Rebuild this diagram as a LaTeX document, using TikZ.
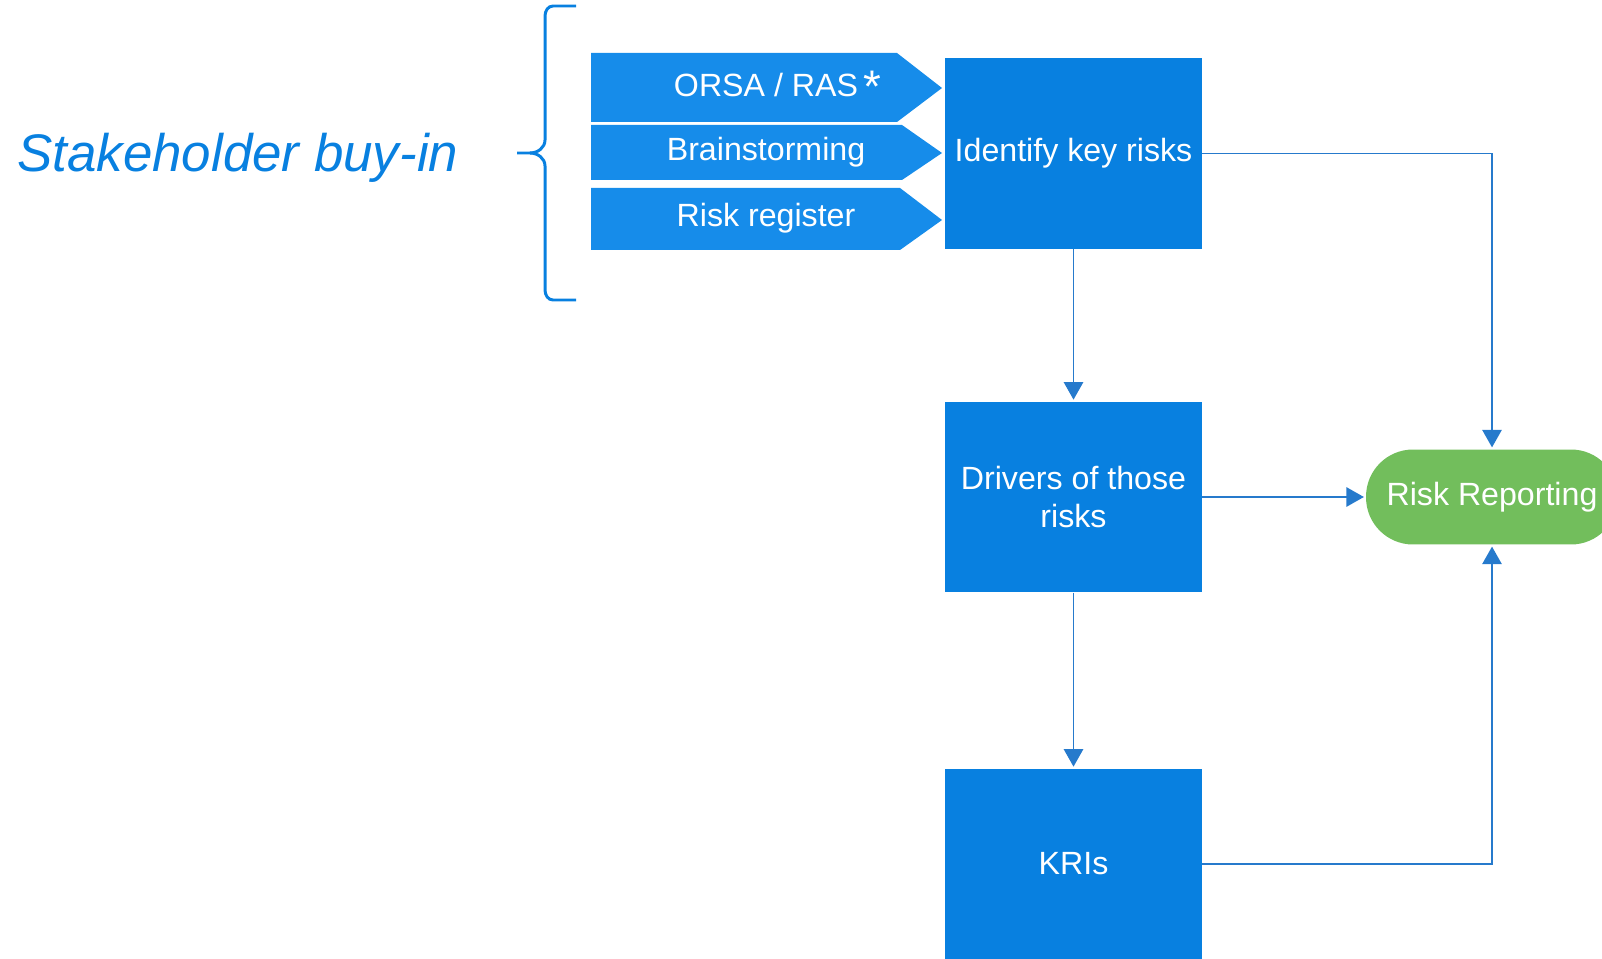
\documentclass[tikz,border=0pt]{standalone}
\usepackage{fontspec}
\setmainfont{Liberation Sans}
\usetikzlibrary{arrows.meta}
\definecolor{boxblue}{RGB}{8,128,224}
\definecolor{tagblue}{RGB}{22,140,234}
\definecolor{lineblue}{RGB}{38,122,204}
\definecolor{repgreen}{RGB}{114,190,92}

\begin{document}
\begin{tikzpicture}[x=0.02cm, y=-0.02cm,
    stepbox/.style={fill=boxblue, text=white, minimum width=5.14cm, minimum height=3.81cm,
      align=center, font=\fontsize{18.3}{22}\selectfont},
    tag/.style={text=white, font=\fontsize{18.3}{22}\selectfont},
    flow/.style={draw=lineblue, line width=1.1pt, -{Triangle[length=10pt,width=11pt]}, shorten >=1pt}
    ]
    \useasboundingbox (0,0) rectangle (1602,959);
    \clip (0,0) rectangle (1602,959);

    % left label and brace
    \node[anchor=base west, inner sep=0, text=boxblue,
      font=\fontsize{30.1}{36}\selectfont\itshape] (stake) at (17,172) {Stakeholder buy-in};
    \draw[boxblue, line width=1.7pt] (576,6) -- (553,6) to[out=180,in=90] (545,16) -- (545,140)
      to[out=270,in=0] (530,153) -- (517,153);
    \draw[boxblue, line width=1.7pt] (530,153) to[out=0,in=90] (545,166) -- (545,290)
      to[out=270,in=180] (553,300) -- (576,300);

    % input tags
    \fill[tagblue] (591,53) -- (897,53) -- (942,88) -- (897,122) -- (591,122) -- cycle;
    \fill[tagblue] (591,125) -- (902,125) -- (942,153) -- (902,180) -- (591,180) -- cycle;
    \fill[tagblue] (591,188) -- (900,188) -- (942,220) -- (900,250) -- (591,250) -- cycle;
    \node[tag] (orsa) at (766,87) {ORSA / RAS\rlap{\,\raisebox{-0.12cm}{\fontsize{26}{26}\selectfont *}}};
    \node[tag] (brain) at (766,152) {Brainstorming};
    \node[tag] (reg) at (766,218) {Risk register};

    % main boxes
    \node[stepbox] (identify) at (1073.5,153.5) {Identify key risks};
    \node[stepbox] (drivers) at (1073.5,497) {Drivers of those\\risks};
    \node[stepbox] (kris) at (1073.5,864) {KRIs};
    \node[fill=repgreen, text=white, rounded corners=0.94cm, minimum width=5.04cm, minimum height=1.9cm,
      font=\fontsize{18.3}{22}\selectfont] (report) at (1492,497) {Risk Reporting};

    \draw[flow] (identify) -- (drivers);
    \draw[flow] (drivers) -- (kris);
    \draw[flow] (identify.east) -| (report.north);
    \draw[flow] (drivers.east) -- (report.west);
    \draw[flow] (kris.east) -| (report.south);
\end{tikzpicture}
\end{document}
